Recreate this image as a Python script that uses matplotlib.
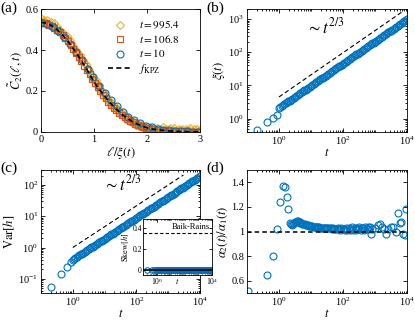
import numpy as np
import matplotlib
matplotlib.use("Agg")
import matplotlib.pyplot as plt
from matplotlib.ticker import FixedLocator, LogLocator, NullFormatter, FuncFormatter
from matplotlib.lines import Line2D

plt.rcParams['font.family'] = 'serif'
plt.rcParams['font.serif'] = ['Liberation Serif', 'DejaVu Serif']
plt.rcParams['mathtext.fontset'] = 'stix'

BLUE = '#0072BD'
ORANGE = '#D95319'
GOLD = '#EDB120'

# ---------------- panel (a) data ----------------
fkpz_x = [0, 0.1, 0.2, 0.3, 0.4, 0.5, 0.6, 0.7, 0.8, 0.9, 1.0, 1.1, 1.2, 1.3, 1.4,
          1.5, 1.6, 1.7, 1.8, 1.9, 2.0, 2.1, 2.2, 2.4, 2.6, 2.8, 3.0]
fkpz_y = [0.535, 0.531, 0.519, 0.500, 0.475, 0.445, 0.410, 0.372, 0.332, 0.290, 0.245,
          0.207, 0.174, 0.143, 0.116, 0.092, 0.071, 0.054, 0.040, 0.029, 0.020, 0.014,
          0.010, 0.005, 0.002, 0.001, 0.000]

c10_x = [0.00, 0.11, 0.22, 0.33, 0.44, 0.55, 0.66, 0.77, 0.88, 0.99, 1.10, 1.21, 1.32, 1.43,
         1.54, 1.65, 1.76, 1.87, 1.98, 2.09, 2.20, 2.31, 2.42, 2.53, 2.64, 2.75, 2.86, 2.97]
c10_y = [0.533, 0.528, 0.514, 0.493, 0.464, 0.430, 0.392, 0.350, 0.308, 0.267, 0.226, 0.188,
         0.154, 0.124, 0.098, 0.075, 0.057, 0.043, 0.031, 0.022, 0.015, 0.010, 0.007, 0.004,
         0.003, 0.002, 0.001, 0.001]

c107_y = [0.536, 0.534, 0.530, 0.524, 0.517, 0.508, 0.498, 0.486, 0.472, 0.458,
          0.442, 0.424, 0.406, 0.386, 0.366, 0.345, 0.324, 0.302, 0.281, 0.260,
          0.239, 0.219, 0.200, 0.182, 0.165, 0.148, 0.133, 0.118, 0.105, 0.093,
          0.082, 0.071, 0.062, 0.054, 0.046, 0.040, 0.034, 0.029, 0.024, 0.020,
          0.017, 0.014, 0.012, 0.010, 0.008, 0.007, 0.006, 0.005, 0.004, 0.004,
          0.003, 0.003, 0.002, 0.002, 0.002, 0.001, 0.001, 0.001, 0.001, 0.000]
c107_x = np.linspace(0, 3, len(c107_y))

c995_y = [0.555, 0.540, 0.548, 0.528, 0.545, 0.522, 0.535, 0.518, 0.530, 0.505,
          0.510, 0.492, 0.498, 0.478, 0.482, 0.462, 0.466, 0.445, 0.448, 0.425,
          0.420, 0.400, 0.402, 0.380, 0.378, 0.360, 0.352, 0.335, 0.330, 0.305,
          0.300, 0.280, 0.278, 0.255, 0.252, 0.232, 0.228, 0.205, 0.200, 0.188,
          0.178, 0.160, 0.160, 0.140, 0.142, 0.122, 0.125, 0.105, 0.110, 0.092,
          0.095, 0.078, 0.082, 0.065, 0.070, 0.052, 0.060, 0.045, 0.050, 0.035,
          0.042, 0.028, 0.035, 0.022, 0.030, 0.015, 0.025, 0.012, 0.022, 0.008,
          0.018, 0.006, 0.020, 0.004, 0.015, 0.008, 0.022, 0.002, 0.012, 0.006,
          0.018, 0.000, 0.010, 0.020, 0.003, 0.008, 0.015, -0.002, 0.012, 0.005,
          0.016, 0.002, 0.008, 0.018, 0.000, 0.012, 0.004, 0.015, 0.003, 0.010]
c995_x = np.linspace(0, 3, len(c995_y))

# ---------------- panels (b), (c) data ----------------
t_early = [0.2, 0.43, 0.65, 0.87]
t_decade = [1.000, 1.101, 1.212, 1.334, 1.468, 1.616, 1.778, 1.957, 2.154, 2.371, 2.610, 2.873,
            3.162, 3.481, 3.831, 4.217, 4.642, 5.109, 5.623, 6.190, 6.813, 7.499, 8.254, 9.085]
t_main = [m * d for d in [1, 10, 100, 1000] for m in t_decade] + [10000]
t_bc = t_early + t_main

xi_vals = [0.45, 0.80, 1.05, 1.30,
           2.10, 2.24, 2.39, 2.54, 2.71, 2.89, 3.08, 3.29, 3.50, 3.73, 3.98, 4.24,
           4.52, 4.82, 5.14, 5.48, 5.84, 6.23, 6.64, 7.07, 7.54, 8.04, 8.57, 9.14,
           9.75, 10.39, 11.08, 11.81, 12.59, 13.42, 14.31, 15.25, 16.26, 17.33, 18.47, 19.69,
           20.99, 22.38, 23.85, 25.43, 27.11, 28.89, 30.80, 32.83, 35.00, 37.31, 39.77, 42.40,
           45.2, 48.2, 51.4, 54.8, 58.4, 62.3, 66.4, 70.8, 75.4, 80.4, 85.7, 91.4,
           97.4, 103.9, 110.7, 118.0, 125.8, 134.1, 143.0, 152.4, 162.5, 173.2, 184.6, 196.8,
           210, 224, 239, 254, 271, 289, 308, 329, 350, 373, 398, 424,
           452, 482, 514, 548, 584, 623, 664, 707, 754, 804, 857, 914,
           975]

var_vals = [0.054, 0.14, 0.235, 0.34,
            0.410, 0.437, 0.466, 0.496, 0.529, 0.564, 0.601, 0.641, 0.683, 0.728, 0.777, 0.828,
            0.882, 0.941, 1.003, 1.070, 1.140, 1.216, 1.296, 1.380, 1.472, 1.569, 1.673, 1.784,
            1.903, 2.028, 2.163, 2.302, 2.455, 2.618, 2.790, 2.975, 3.171, 3.379, 3.607, 3.843,
            4.094, 4.368, 4.656, 4.966, 5.292, 5.644, 6.016, 6.405, 6.832, 7.283, 7.765, 8.281,
            8.83, 9.41, 10.04, 10.69, 11.40, 12.15, 12.95, 13.81, 14.71, 15.68, 16.74, 17.84,
            19.00, 20.27, 21.61, 23.04, 24.56, 26.20, 27.92, 29.73, 31.71, 33.80, 36.04, 38.43,
            41.0, 43.7, 46.6, 49.6, 52.9, 56.4, 60.1, 64.1, 68.3, 72.8, 77.7, 82.8,
            88.2, 94.1, 100.3, 107.0, 114.0, 121.6, 129.6, 138.0, 147.2, 156.9, 167.3, 178.4,
            190.3]

skew_vals = [0.0] * len(t_bc)
baik_rains = 0.359

guide_t = [1, 8000]
guide_xi = [4.5, 1800]
guide_t_c = [1, 3000]
guide_var = [1.0, 208]

# ---------------- panel (d) data ----------------
t_d = [0.11, 0.43, 0.65, 0.87, 1.07, 1.33, 1.58, 1.74, 1.96,
       2.2, 2.4, 2.6, 2.8, 3.0, 3.2, 3.4, 3.6, 3.8, 4.1,
       4.4, 4.7, 5.0, 5.4, 5.8, 6.3, 6.8, 7.3, 7.9, 8.5,
       9.2, 10, 11, 12, 13, 14, 15, 16, 18, 19,
       21, 23, 25, 27, 29, 32, 35, 38, 41, 45,
       49, 53, 58, 63, 69, 75, 82, 89, 97, 106,
       115, 125, 137, 149, 162, 177, 193, 210, 229, 249,
       272, 296, 323, 352, 383, 418, 455, 496, 541, 589,
       642, 700, 770, 830, 1000, 1200, 1400, 1600, 1900, 2240,
       2600, 3100, 3700, 4400, 5250, 6000, 6600, 7500, 8900, 9550]
ratio_d = [0.52, 0.645, 0.80, 1.02, 1.24, 1.37, 1.365, 1.28, 1.18,
           1.07, 1.06, 1.05, 1.06, 1.07, 1.075, 1.08, 1.085, 1.085, 1.08,
           1.075, 1.07, 1.07, 1.065, 1.06, 1.058, 1.055, 1.052, 1.05, 1.048,
           1.046, 1.044, 1.042, 1.04, 1.038, 1.037, 1.035, 1.034, 1.033, 1.032,
           1.031, 1.03, 1.03, 1.029, 1.028, 1.027, 1.026, 1.025, 1.027, 1.022,
           1.026, 1.02, 1.024, 1.018, 1.026, 1.02, 1.015, 1.028, 1.018, 1.022,
           1.01, 1.025, 1.015, 1.03, 1.012, 1.022, 1.035, 1.015, 1.025, 1.01,
           1.03, 1.02, 1.04, 1.015, 1.025, 1.03, 1.01, 1.035, 1.02, 1.04,
           1.02, 1.035, 0.98, 1.02, 1.03, 1.05, 1.06, 1.04, 1.02, 0.98,
           1.02, 1.04, 1.04, 1.00, 1.15, 1.07, 1.08, 0.98, 0.97, 1.18]

# ---------------- figure ----------------
fig = plt.figure(figsize=(4.15, 3.24), dpi=100)
ax_a = fig.add_axes([0.0988, 0.593, 0.3832, 0.379])
ax_b = fig.add_axes([0.595, 0.593, 0.386, 0.379])
ax_c = fig.add_axes([0.0988, 0.0957, 0.3832, 0.3793])
ax_d = fig.add_axes([0.595, 0.0957, 0.386, 0.3793])

TICK_FS = 7.5
LAB_FS = 9

def style(ax, fs=TICK_FS, major=3.0, minor=1.6):
    ax.tick_params(which='both', direction='in', top=True, right=True, labelsize=fs,
                   width=0.6, pad=2)
    ax.tick_params(which='major', length=major)
    ax.tick_params(which='minor', length=minor)
    for s in ax.spines.values():
        s.set_linewidth(0.6)

def plain(v, pos):
    return f"{v:g}"

def logx(ax):
    ax.set_xscale('log')
    ax.set_xlim(0.1, 1e4)
    ax.xaxis.set_major_locator(FixedLocator([1, 1e2, 1e4]))
    ax.xaxis.set_minor_locator(LogLocator(base=10, subs=np.arange(1, 10), numticks=20))
    ax.xaxis.set_minor_formatter(NullFormatter())

ms = 5
mew = 0.8

# (a)
ax_a.plot(c995_x, c995_y, linestyle='none', marker='D', ms=4.2, mfc='none', mec=GOLD, mew=mew)
ax_a.plot(c107_x, c107_y, linestyle='none', marker='s', ms=4.5, mfc='none', mec=ORANGE, mew=0.9)
ax_a.plot(c10_x, c10_y, linestyle='none', marker='o', ms=ms, mfc='none', mec=BLUE, mew=mew)
ax_a.plot(fkpz_x, fkpz_y, 'k--', lw=1.2, dashes=(3, 2))
ax_a.set_xlim(0, 3)
ax_a.set_ylim(0, 0.6)
ax_a.set_xticks([0, 1, 2, 3])
ax_a.set_yticks([0, 0.2, 0.4, 0.6])
ax_a.yaxis.set_major_formatter(FuncFormatter(plain))
ax_a.xaxis.set_major_formatter(FuncFormatter(plain))
style(ax_a)
ax_a.set_xlabel(r'$\ell/\xi(t)$', fontsize=LAB_FS, labelpad=1)
ax_a.set_ylabel(r'$\tilde{C}_2(\ell,t)$', fontsize=LAB_FS, labelpad=1)
handles = [
    Line2D([], [], linestyle='none', marker='D', ms=4.2, mfc='none', mec=GOLD, mew=mew),
    Line2D([], [], linestyle='none', marker='s', ms=4.5, mfc='none', mec=ORANGE, mew=mew),
    Line2D([], [], linestyle='none', marker='o', ms=ms, mfc='none', mec=BLUE, mew=mew),
    Line2D([], [], color='k', linestyle='--', lw=1.2, dashes=(3, 2)),
]
labels = [r'$t=995.4$', r'$t=106.8$', r'$t=10$', r'$f_{\mathrm{KPZ}}$']
ax_a.legend(handles, labels, loc='upper left', bbox_to_anchor=(0.42, 0.92), frameon=False,
            fontsize=8, handlelength=2.2, handletextpad=0.6, labelspacing=0.2,
            borderaxespad=0, borderpad=0)

# (b)
ax_b.plot(t_bc, xi_vals, linestyle='none', marker='o', ms=ms, mfc='none', mec=BLUE, mew=mew)
ax_b.plot(guide_t, guide_xi, 'k--', lw=0.8, dashes=(4, 2.5))
logx(ax_b)
ax_b.set_yscale('log')
ax_b.set_ylim(0.4, 2000)
ax_b.yaxis.set_major_locator(FixedLocator([1, 10, 100, 1000]))
ax_b.yaxis.set_minor_locator(LogLocator(base=10, subs=np.arange(1, 10), numticks=20))
ax_b.yaxis.set_minor_formatter(NullFormatter())
style(ax_b)
ax_b.set_xlabel(r'$t$', fontsize=LAB_FS, labelpad=0)
ax_b.set_ylabel(r'$\xi(t)$', fontsize=LAB_FS, labelpad=1)
ax_b.text(0.49, 0.85, r'$\sim t^{2/3}$', transform=ax_b.transAxes, ha='center', va='center',
          fontsize=12)

# (c)
ax_c.plot(t_bc, var_vals, linestyle='none', marker='o', ms=ms, mfc='none', mec=BLUE, mew=mew)
ax_c.plot(guide_t_c, guide_var, 'k--', lw=0.8, dashes=(4, 2.5))
logx(ax_c)
ax_c.set_yscale('log')
ax_c.set_ylim(0.035, 300)
ax_c.yaxis.set_major_locator(FixedLocator([0.1, 1, 10, 100]))
ax_c.yaxis.set_minor_locator(LogLocator(base=10, subs=np.arange(1, 10), numticks=20))
ax_c.yaxis.set_minor_formatter(NullFormatter())
style(ax_c)
ax_c.set_xlabel(r'$t$', fontsize=LAB_FS, labelpad=0)
ax_c.set_ylabel(r'$\mathrm{Var}[h]$', fontsize=LAB_FS, labelpad=1)
ax_c.text(0.51, 0.885, r'$\sim t^{2/3}$', transform=ax_c.transAxes, ha='center', va='center',
          fontsize=12)

# (d)
ax_d.plot(t_d, ratio_d, linestyle='none', marker='o', ms=ms, mfc='none', mec=BLUE, mew=mew)
ax_d.axhline(1.0, color='k', linestyle='--', lw=1.1, dashes=(3, 2))
logx(ax_d)
ax_d.set_ylim(0.5, 1.5)
ax_d.set_yticks([0.6, 0.8, 1.0, 1.2, 1.4])
ax_d.yaxis.set_major_formatter(FuncFormatter(plain))
style(ax_d)
ax_d.set_xlabel(r'$t$', fontsize=LAB_FS, labelpad=0)
ax_d.set_ylabel(r'$\alpha_2(t)/\alpha_1(t)$', fontsize=LAB_FS, labelpad=1)

# inset
ax_in = fig.add_axes([0.345, 0.151, 0.166, 0.173])
ax_in.axhline(0.0, color='k', lw=1.2, zorder=3)
ax_in.plot(t_bc, skew_vals, linestyle='none', marker='o', ms=4, mfc='none', mec=BLUE, mew=0.8,
           zorder=2)
ax_in.axhline(baik_rains, color='k', linestyle='--', lw=0.8, dashes=(3, 2))
ax_in.set_xscale('log')
ax_in.set_xlim(0.1, 1e4)
ax_in.xaxis.set_major_locator(FixedLocator([1, 1e4]))
ax_in.xaxis.set_minor_locator(LogLocator(base=10, subs=np.arange(1, 10), numticks=20))
ax_in.xaxis.set_minor_formatter(NullFormatter())
ax_in.set_ylim(-0.05, 0.49)
ax_in.set_yticks([0, 0.2, 0.4])
ax_in.yaxis.set_major_formatter(FuncFormatter(plain))
style(ax_in, fs=5.5, major=2.0, minor=1.0)
ax_in.tick_params(pad=1)
ax_in.set_xlabel(r'$t$', fontsize=6, labelpad=-8)
ax_in.set_ylabel(r'$\mathrm{Skew}[h]$', fontsize=6, labelpad=1)
ax_in.text(0.97, 0.79, 'Baik-Rains', transform=ax_in.transAxes, ha='right', va='bottom',
           fontsize=6)

# panel labels
fig.text(0.0, 0.995, '(a)', fontsize=11, ha='left', va='top')
fig.text(0.497, 0.995, '(b)', fontsize=11, ha='left', va='top')
fig.text(0.0, 0.503, '(c)', fontsize=11, ha='left', va='top')
fig.text(0.497, 0.503, '(d)', fontsize=11, ha='left', va='top')

fig.savefig('out.png', dpi=100)
